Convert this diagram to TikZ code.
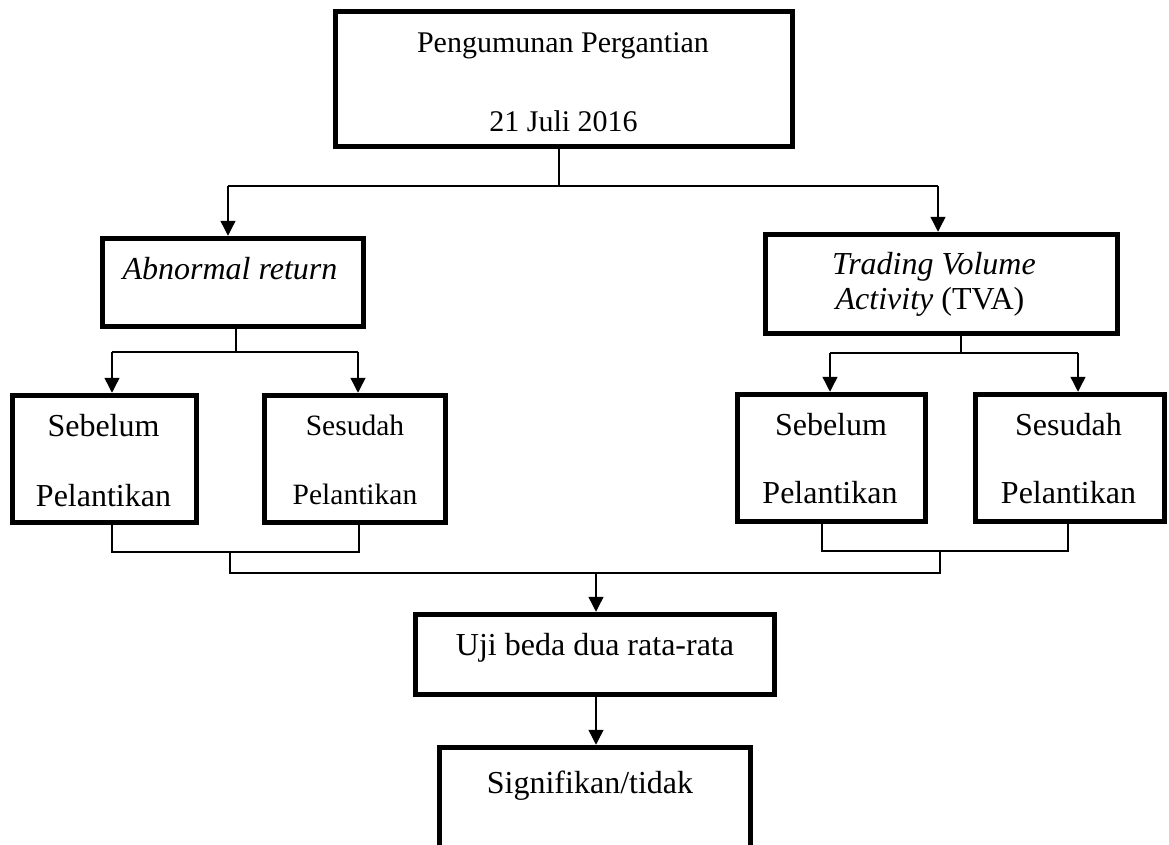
\documentclass[tikz,border=0pt]{standalone}
\usepackage{fontspec}
\setmainfont{Liberation Serif}
\usetikzlibrary{arrows.meta}
\begin{document}
\begin{tikzpicture}[x=1pt,y=-1pt,
  box/.style={draw,line width=5.5pt,inner sep=0pt},
  txt/.style={inner sep=0pt,anchor=base,font=\fontsize{32}{36}\selectfont},
  txtsm/.style={txt,font=\fontsize{29.5}{33}\selectfont},
  txttop/.style={txt,font=\fontsize{30}{34}\selectfont},
  conn/.style={line width=1.4pt},
  arr/.style={conn,-{Triangle[width=15pt,length=15pt]}}]
\clip (0,0) rectangle (1169,845);
\fill[white] (0,0) rectangle (1169,845);

% boxes
\node[box,minimum width=457pt,minimum height=135pt] (top) at (564,79) {};
\node[txttop] (t1) at (563,53) {Pengumunan Pergantian};
\node[txttop] (t2) at (563.5,132) {21 Juli 2016};

\node[box,minimum width=261pt,minimum height=88pt] (ab) at (233,282.5) {};
\node[txt] (t3) at (230,279) {\itshape Abnormal return};

\node[box,minimum width=352pt,minimum height=99pt] (tva) at (941.5,284) {};
\node[txt] (t4) at (934,274) {\itshape Trading Volume};
\node[txt] (t5) at (930,309) {\textit{Activity} (TVA)};

\node[box,minimum width=184pt,minimum height=127pt] (sbL) at (104.5,459) {};
\node[txt] (t6) at (103.5,436) {Sebelum};
\node[txt] (t7) at (103.5,506) {Pelantikan};

\node[box,minimum width=181pt,minimum height=127pt] (ssL) at (355,459) {};
\node[txtsm] (t8) at (355,435) {Sesudah};
\node[txtsm] (t9) at (355,504) {Pelantikan};

\node[box,minimum width=188pt,minimum height=127pt] (sbR) at (831.5,458) {};
\node[txt] (t10) at (831,435) {Sebelum};
\node[txt] (t11) at (830,503) {Pelantikan};

\node[box,minimum width=189pt,minimum height=127pt] (ssR) at (1070,458) {};
\node[txt] (t12) at (1068.5,435) {Sesudah};
\node[txt] (t13) at (1068.5,503) {Pelantikan};

\node[box,minimum width=359pt,minimum height=80pt] (uji) at (595,654.5) {};
\node[txt] (t14) at (595,655) {Uji beda dua rata-rata};

\node[box,minimum width=311pt,minimum height=122.5pt] (sig) at (595,808.75) {};
\node[txt] (t15) at (590,793) {Signifikan/tidak};

% junction coordinates
\coordinate (j0) at (559,186);
\coordinate (jL) at (228,186);
\coordinate (jR) at (938,186);
\coordinate (a0) at (236,352);
\coordinate (aL) at (112,352);
\coordinate (aR) at (358,352);
\coordinate (v0) at (961,353);
\coordinate (vL) at (830,353);
\coordinate (vR) at (1078,353);
\coordinate (bL1) at (112,552);
\coordinate (bL2) at (359,552);
\coordinate (bLm) at (230,552);
\coordinate (bR1) at (822,551);
\coordinate (bR2) at (1068,551);
\coordinate (bRm) at (940,551);
\coordinate (lo1) at (230,573);
\coordinate (lo2) at (940,573);
\coordinate (lo0) at (596,573);

% connectors
\draw[conn] (j0 |- top.south) -- (j0);
\draw[conn] (jL) -- (jR);
\draw[arr] (jL) -- (jL |- ab.north);
\draw[arr] (jR) -- (jR |- tva.north);

\draw[conn] (a0 |- ab.south) -- (a0);
\draw[conn] (aL) -- (aR);
\draw[arr] (aL) -- (aL |- sbL.north);
\draw[arr] (aR) -- (aR |- ssL.north);

\draw[conn] (v0 |- tva.south) -- (v0);
\draw[conn] (vL) -- (vR);
\draw[arr] (vL) -- (vL |- sbR.north);
\draw[arr] (vR) -- (vR |- ssR.north);

\draw[conn] (bL1 |- sbL.south) -- (bL1) -- (bL2) -- (bL2 |- ssL.south);
\draw[conn] (bR1 |- sbR.south) -- (bR1) -- (bR2) -- (bR2 |- ssR.south);
\draw[conn] (bLm) -- (lo1) -- (lo2) -- (bRm);
\draw[arr] (lo0) -- (lo0 |- uji.north);
\draw[arr] (lo0 |- uji.south) -- (lo0 |- sig.north);
\end{tikzpicture}
\end{document}
